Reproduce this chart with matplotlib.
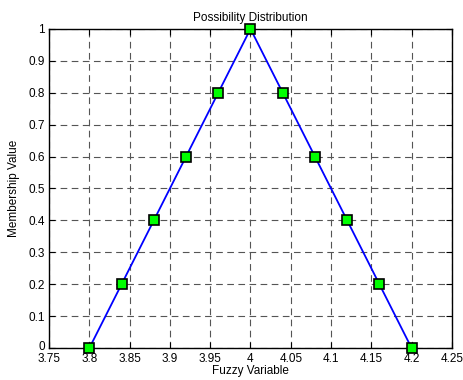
import matplotlib
matplotlib.use("Agg")
import matplotlib.pyplot as plt
import matplotlib.transforms as mtransforms

# fuzzy variable and its membership grade
x_vals = [3.80, 3.84, 3.88, 3.92, 3.96, 4.00, 4.04, 4.08, 4.12, 4.16, 4.20]
mu_vals = [0.0, 0.2, 0.4, 0.6, 0.8, 1.0, 0.8, 0.6, 0.4, 0.2, 0.0]

x_ticks = [3.75, 3.8, 3.85, 3.9, 3.95, 4, 4.05, 4.1, 4.15, 4.2, 4.25]
y_ticks = [0, 0.1, 0.2, 0.3, 0.4, 0.5, 0.6, 0.7, 0.8, 0.9, 1]

plt.rcParams['font.family'] = ['Liberation Sans', 'DejaVu Sans']
plt.rcParams['font.size'] = 8.5

fig = plt.figure(figsize=(4.63, 3.80), dpi=100)
ax = fig.add_axes([0.106, 0.084, 0.870, 0.840])

ax.plot(x_vals, mu_vals, color='blue', linewidth=1.3,
        marker='s', markersize=7, markerfacecolor='#00ff00',
        markeredgecolor='black', markeredgewidth=1.2, clip_on=False, zorder=3)

ax.set_xlim(3.75, 4.25)
ax.set_ylim(0, 1)
ax.set_xticks(x_ticks)
ax.set_xticklabels([f"{t:g}" for t in x_ticks])
ax.set_yticks(y_ticks)
ax.set_yticklabels([f"{t:g}" for t in y_ticks], va='center_baseline')
ax.tick_params(direction='in', top=True, right=True, length=4)
ax.tick_params(axis='x', pad=3.5)
ax.tick_params(axis='y', pad=3)
ax.grid(True, linestyle=(0, (6, 4)), color='#555555', linewidth=0.8)

# lift the "0" label a little so it clears the first x label
zero_lbl = ax.get_yticklabels()[0]
zero_lbl.set_transform(zero_lbl.get_transform() +
                       mtransforms.ScaledTranslation(0, 2 / 72, fig.dpi_scale_trans))

for s in ax.spines.values():
    s.set_linewidth(1.0)

ax.set_title("Possibility Distribution", fontsize=8.5, pad=6)
ax.set_xlabel("Fuzzy Variable", labelpad=0)
ax.set_ylabel("Membership Value", labelpad=6)

fig.savefig("out.png", dpi=100)
